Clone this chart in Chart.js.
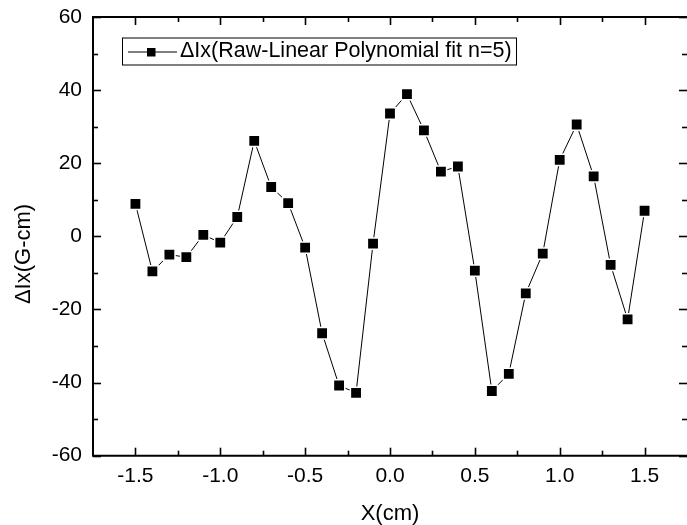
<!DOCTYPE html>
<html>
<head>
<meta charset="utf-8">
<script src="https://cdn.jsdelivr.net/npm/chart.js@4/dist/chart.umd.min.js"></script>
<style>
  html, body { margin: 0; padding: 0; background: #fff; }
  #wrap { width: 687px; height: 525px; }
</style>
</head>
<body>
<div id="wrap"><canvas id="c" width="687" height="525"></canvas></div>
<script>
// Probe positions (cm) and residual of the field integral after a 5th-order fit (G-cm)
const xPositions = [-1.5, -1.4, -1.3, -1.2, -1.1, -1.0, -0.9, -0.8, -0.7, -0.6, -0.5,
                    -0.4, -0.3, -0.2, -0.1, 0.0, 0.1, 0.2, 0.3, 0.4, 0.5,
                    0.6, 0.7, 0.8, 0.9, 1.0, 1.1, 1.2, 1.3, 1.4, 1.5];
const deltaIx = [8.9, -9.6, -5.0, -5.7, 0.4, -1.7, 5.3, 26.1, 13.5, 9.1, -3.1,
                 -26.5, -40.8, -42.8, -2.0, 33.6, 38.9, 29.0, 17.7, 19.1, -9.4,
                 -42.3, -37.6, -15.6, -4.7, 20.9, 30.6, 16.4, -7.8, -22.7, 7.0];

const xMajorTicks = [-1.5, -1.0, -0.5, 0.0, 0.5, 1.0, 1.5];
const xMinorTicks = [-1.25, -0.75, -0.25, 0.25, 0.75, 1.25];
const yMajorTicks = [-60, -40, -20, 0, 20, 40, 60];
const yMinorTicks = [-50, -30, -10, 10, 30, 50];

const seriesLabel = 'ΔIx(Raw-Linear Polynomial fit n=5)';
const xTitle = 'X(cm)';
const yTitle = 'ΔIx(G-cm)';

const FONT = '"Liberation Sans", Arial, Helvetica, sans-serif';

// Fixed scale footprint so the plot box sits at a set place
function noScalePadding(s) {
  s.paddingLeft = 0; s.paddingRight = 0; s.paddingTop = 0; s.paddingBottom = 0;
}

// Boxed frame with inward ticks on all four sides, the y title and the legend
const framePlugin = {
  id: 'frame',
  afterDraw(chart) {
    const ctx = chart.ctx;
    const a = chart.chartArea;
    const xs = chart.scales.x, ys = chart.scales.y;
    ctx.save();
    ctx.strokeStyle = '#000';
    ctx.lineCap = 'butt';

    // ticks
    ctx.lineWidth = 1.6;
    const tick = (x1, y1, x2, y2) => { ctx.beginPath(); ctx.moveTo(x1, y1); ctx.lineTo(x2, y2); ctx.stroke(); };
    const MAJ = 8, MIN = 5;
    xMajorTicks.concat(xMinorTicks).forEach(v => {
      const len = xMajorTicks.includes(v) ? MAJ : MIN;
      const px = Math.round(xs.getPixelForValue(v)) + 0.5;
      tick(px, a.bottom, px, a.bottom - len);
      tick(px, a.top, px, a.top + len);
    });
    yMajorTicks.concat(yMinorTicks).forEach(v => {
      const len = yMajorTicks.includes(v) ? MAJ : MIN;
      const py = Math.round(ys.getPixelForValue(v)) + 0.5;
      tick(a.left, py, a.left + len, py);
      tick(a.right, py, a.right - len, py);
    });

    // axis lines
    ctx.lineWidth = 2;
    ctx.beginPath();
    ctx.moveTo(a.left, a.top); ctx.lineTo(a.right + 2, a.top);
    ctx.moveTo(a.left, a.bottom); ctx.lineTo(a.right + 2, a.bottom);
    ctx.moveTo(a.left, a.top - 1); ctx.lineTo(a.left, a.bottom + 1);
    ctx.moveTo(a.right + 1.5, a.top - 1); ctx.lineTo(a.right + 1.5, a.bottom + 1);
    ctx.stroke();

    // y axis title
    ctx.save();
    ctx.translate(24, 254);
    ctx.rotate(-Math.PI / 2);
    ctx.fillStyle = '#000';
    ctx.font = '22px ' + FONT;
    ctx.textAlign = 'center';
    ctx.textBaseline = 'middle';
    ctx.fillText(yTitle, 0, 0);
    ctx.restore();

    // legend
    const lx = 122, ly = 37.5, lw = 394, lh = 27;
    ctx.lineWidth = 1;
    ctx.strokeStyle = '#000';
    ctx.strokeRect(lx + 0.5, ly + 0.5, lw, lh);
    const cy = ly + lh / 2 + 1;
    ctx.beginPath();
    ctx.moveTo(128, cy); ctx.lineTo(177, cy);
    ctx.stroke();
    ctx.fillStyle = '#000';
    ctx.fillRect(147, cy - 4, 8.5, 8.5);
    ctx.font = '21.5px ' + FONT;
    ctx.textAlign = 'left';
    ctx.textBaseline = 'middle';
    ctx.fillText(seriesLabel, 180, cy - 0.5);
    ctx.restore();
  }
};

new Chart(document.getElementById('c'), {
  type: 'line',
  data: {
    datasets: [{
      label: seriesLabel,
      data: xPositions.map((x, i) => ({ x: x, y: deltaIx[i] })),
      borderColor: '#000',
      borderWidth: 1,
      pointStyle: 'rect',
      pointRadius: 8,
      pointBackgroundColor: '#000',
      pointBorderColor: '#fff',
      pointBorderWidth: 1.5,
      tension: 0,
      fill: false
    }]
  },
  options: {
    responsive: false,
    animation: false,
    devicePixelRatio: 1,
    layout: { autoPadding: false, padding: { top: 17, right: 0, left: 0, bottom: 0 } },
    plugins: { legend: { display: false }, tooltip: { enabled: false } },
    scales: {
      x: {
        type: 'linear',
        min: -1.75,
        max: 1.75,
        grid: { display: false, drawTicks: false },
        border: { display: false },
        afterBuildTicks: s => { s.ticks = xMajorTicks.map(v => ({ value: v })); },
        afterFit: s => { s.height = 69.3; noScalePadding(s); },
        ticks: {
          color: '#000',
          font: { family: FONT, size: 21 },
          padding: 8,
          maxRotation: 0,
          autoSkip: false,
          callback: v => Number(v).toFixed(1)
        },
        title: {
          display: true,
          text: xTitle,
          color: '#000',
          font: { family: FONT, size: 22, lineHeight: 1.0 },
          padding: { top: 0, bottom: 0 }
        }
      },
      y: {
        type: 'linear',
        min: -60,
        max: 60,
        grid: { display: false, drawTicks: false },
        border: { display: false },
        afterBuildTicks: s => { s.ticks = yMajorTicks.map(v => ({ value: v })); },
        afterFit: s => { s.width = 93; noScalePadding(s); },
        ticks: {
          color: '#000',
          font: { family: FONT, size: 21 },
          padding: 11,
          autoSkip: false,
          callback: v => String(v)
        }
      }
    }
  },
  plugins: [framePlugin]
});
</script>
</body>
</html>
